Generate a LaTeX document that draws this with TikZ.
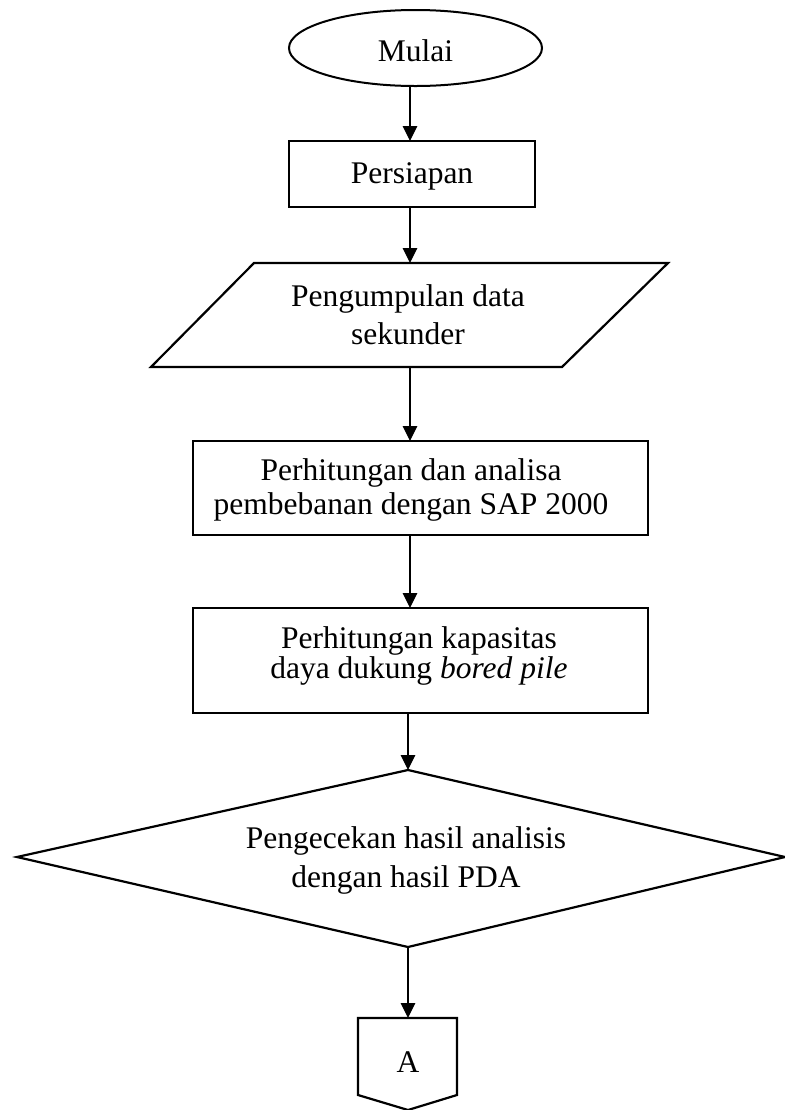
\documentclass[tikz,border=0pt]{standalone}
\usepackage{fontspec}
\setmainfont{Liberation Serif}
\usetikzlibrary{arrows.meta,shapes.geometric}
% #1 = twice the horizontal shift, #2 = raise of first baseline above node centre, #3 = baselineskip, #4 = lines separated by \cr
\newcommand{\tx}[4]{\makebox[0pt]{\hspace*{#1}\smash{\raisebox{#2}{\vtop{\baselineskip=#3\lineskiplimit=-\maxdimen\halign{\hfil##\hfil\cr#4\crcr}}}}}}
\begin{document}
\begin{tikzpicture}[x=0.5pt,y=-0.5pt,
  every node/.style={inner sep=0pt,outer sep=0pt,font=\fontsize{15.75}{17}\selectfont},
  shp/.style={draw,line width=1.1pt,line join=miter},
  boxnode/.style={shp,rectangle},
  arr/.style={line width=0.65pt,-{Triangle[length=7.5pt,width=7.3pt]}}]
\useasboundingbox (0,0) rectangle (785,1110);
\coordinate (ax) at (410,0);
\coordinate (bx) at (408,0);
% start
\node[shp,ellipse,minimum width=126.5pt,minimum height=38pt,line width=1pt] (mulai) at (415.5,48) {\tx{0pt}{-6.5pt}{17pt}{Mulai}};
% preparation
\node[boxnode,minimum width=123pt,minimum height=33pt] (persiapan) at (412,174) {\tx{0pt}{-4.5pt}{17pt}{Persiapan}};
% data (parallelogram)
\draw[shp] (254,263) -- (668,263) -- (562,367) -- (151,367) -- cycle;
\coordinate (pgtop) at (410,263);
\coordinate (pgbot) at (410,367);
\node (pg) at (408,306) {\tx{0pt}{0pt}{19pt}{Pengumpulan data\cr sekunder}};
% process boxes
\node[boxnode,minimum width=227.5pt,minimum height=47pt] (r2) at (420.5,488) {\tx{-9.5pt}{4pt}{17pt}{Perhitungan dan analisa\cr pembebanan dengan SAP 2000}};
\node[boxnode,minimum width=227.5pt,minimum height=52.5pt] (r3) at (420.5,660.5) {\tx{-1.5pt}{6.25pt}{15pt}{Perhitungan kapasitas\cr daya dukung \textit{bored pile}}};
% decision
\draw[shp] (17,857) -- (408,770) -- (785,857) -- (408,947) -- cycle;
\coordinate (dtop) at (408,770);
\coordinate (dbot) at (408,947);
\node (dt) at (406,848) {\tx{0pt}{0pt}{19.5pt}{Pengecekan hasil analisis\cr dengan hasil PDA}};
% off-page connector
\draw[shp] (358,1018) -- (457,1018) -- (457,1095) -- (408,1110) -- (358,1095) -- cycle;
\coordinate (Atop) at (408,1018);
\node (A) at (408,1072) {\tx{0pt}{0pt}{17pt}{A}};
% connectors
\draw[arr] (mulai.south -| ax) -- (persiapan.north -| ax);
\draw[arr] (persiapan.south -| ax) -- (pgtop);
\draw[arr] (pgbot) -- (r2.north -| ax);
\draw[arr] (r2.south -| ax) -- (r3.north -| ax);
\draw[arr] (r3.south -| bx) -- (dtop);
\draw[arr] (dbot) -- (Atop);
\end{tikzpicture}
\end{document}
